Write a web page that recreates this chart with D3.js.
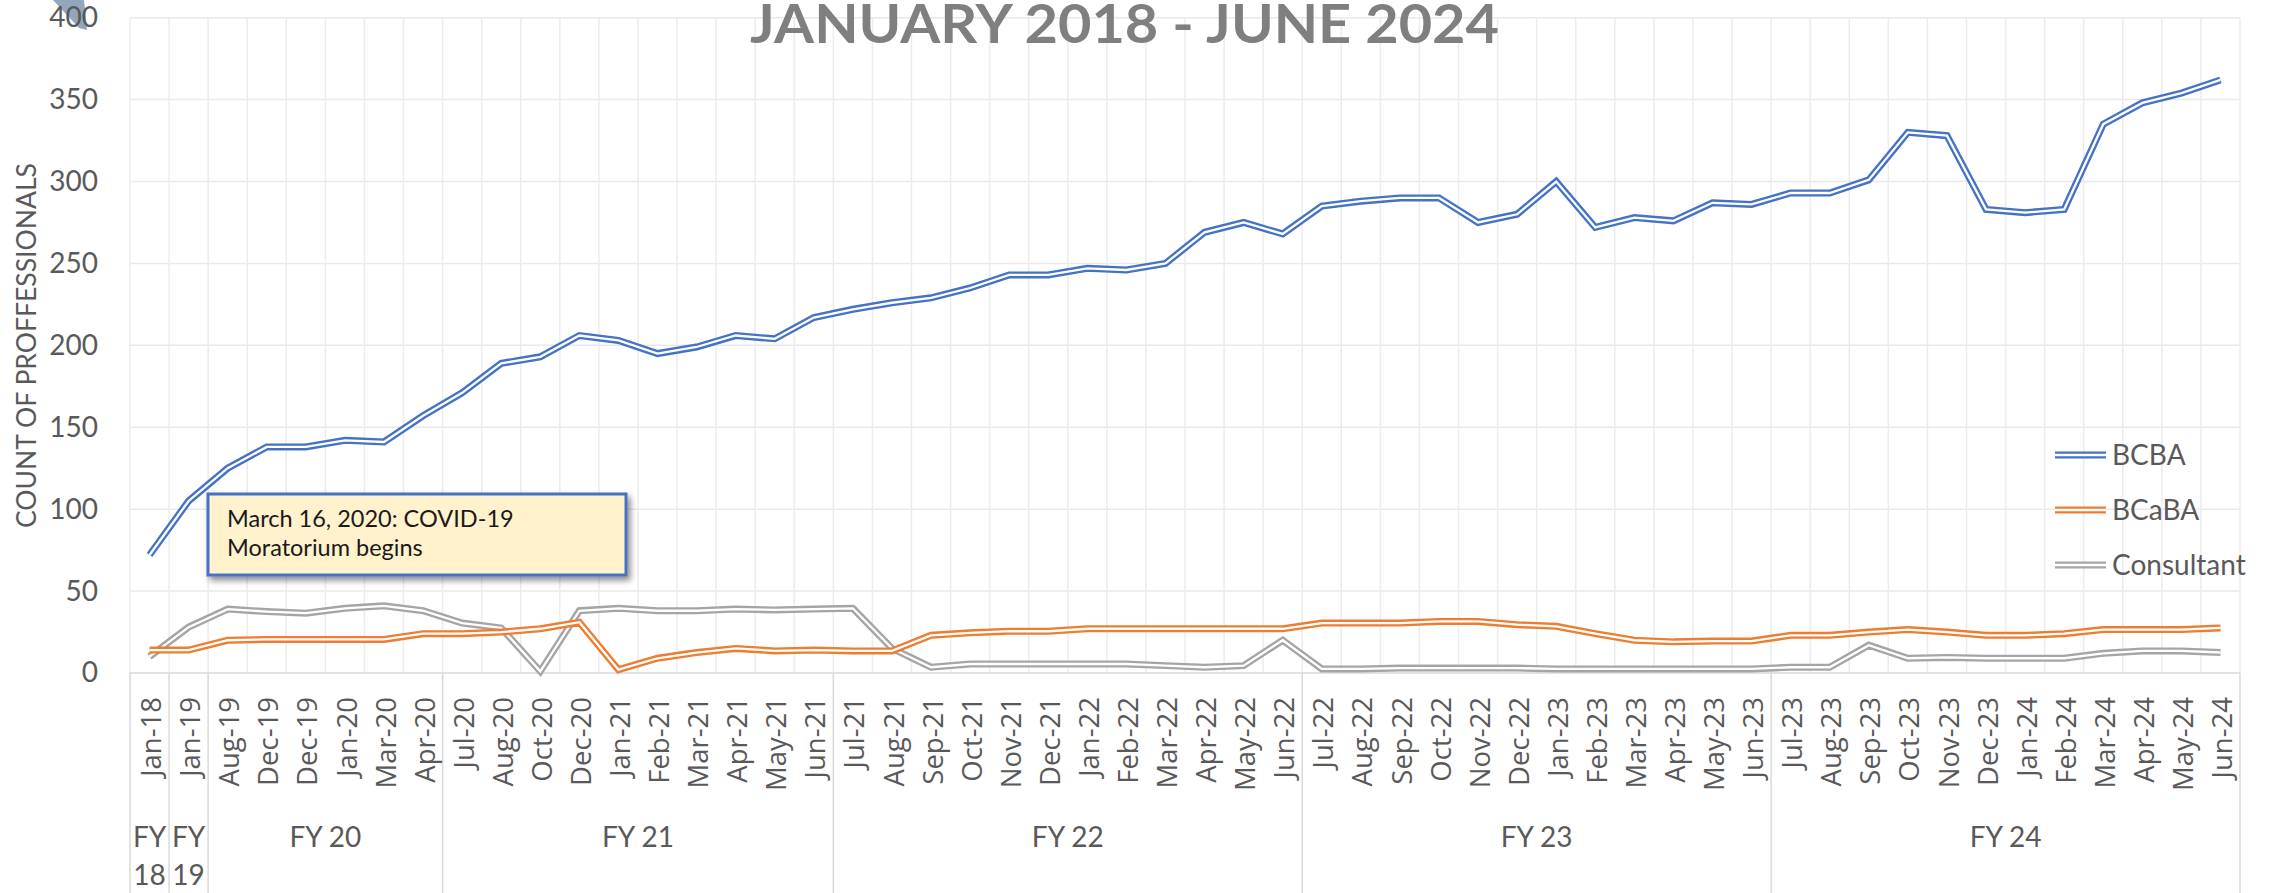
<!DOCTYPE html>
<html>
<head>
<meta charset="utf-8">
<script src="https://cdn.jsdelivr.net/npm/d3@7"></script>
<style>
  html, body { margin: 0; padding: 0; background: #fff; }
  svg { display: block; }
</style>
</head>
<body>
<script>
const categories = ["Jan-18","Jan-19","Aug-19","Dec-19","Dec-19","Jan-20","Mar-20","Apr-20","Jul-20","Aug-20","Oct-20","Dec-20","Jan-21","Feb-21","Mar-21","Apr-21","May-21","Jun-21","Jul-21","Aug-21","Sep-21","Oct-21","Nov-21","Dec-21","Jan-22","Feb-22","Mar-22","Apr-22","May-22","Jun-22","Jul-22","Aug-22","Sep-22","Oct-22","Nov-22","Dec-22","Jan-23","Feb-23","Mar-23","Apr-23","May-23","Jun-23","Jul-23","Aug-23","Sep-23","Oct-23","Nov-23","Dec-23","Jan-24","Feb-24","Mar-24","Apr-24","May-24","Jun-24"];
const bcba = [72,105,125,138,138,142,141,157,171,189,193,206,203,195,199,206,204,217,222,226,229,235,243,243,247,246,250,269,275,268,285,288,290,290,275,280,300,272,278,276,287,286,293,293,301,330,328,283,281,283,335,348,354,362];
const bcaba = [14,14,20,20.5,20.5,20.5,20.5,24,24,25,27,31,2,9,12.5,15,13.5,14,13.5,13.5,23,24.5,25.5,25.5,27,27,27,27,27,27,30.5,30.5,30.5,31.5,31.5,29.5,28.5,24,20,19,19.5,19.5,23,23,25,26.5,25,23,23,24,26.5,26.5,26.5,27.5];
const consultant = [10,28,39,37.5,36.5,39.5,41,38,30.5,27.5,1,38,39.5,38,38,39,38.5,39,39.5,15,3.5,5.5,5.5,5.5,5.5,5.5,4.5,3.5,4.5,20,2.5,2.5,3,3,3,3,2.5,2.5,2.5,2.5,2.5,2.5,3.5,3.5,17,9,9.5,9,9,9,12,13.5,13.5,12.5];
const seriesNames = ["BCBA","BCaBA","Consultant"];
const seriesColors = ["#4472C4","#ED7D31","#A5A5A5"];
const yTicks = [0,50,100,150,200,250,300,350,400];
const fyLabels = ["FY 18","FY 19","FY 20","FY 21","FY 22","FY 23","FY 24"];
const fyCounts = [1,1,6,10,12,12,12];
const titleText = "JANUARY 2018 - JUNE 2024";
const yAxisTitle = "COUNT OF PROFFESSIONALS";
const noteLines = ["March 16, 2020: COVID-19","Moratorium begins"];

(function () {
const W = 2277, H = 893;
const pLeft = 130, pRight = 2240, pTop = 17.7, pBottom = 673;

const svg = d3.select("body").append("svg").attr("width", W).attr("height", H);

const defs = svg.append("defs");
const f = defs.append("filter").attr("id","shadow").attr("x","-10%").attr("y","-20%").attr("width","130%").attr("height","160%");
f.append("feDropShadow").attr("dx",3).attr("dy",4).attr("stdDeviation",3).attr("flood-color","#000").attr("flood-opacity",0.45);

const idx = d3.range(categories.length);
const x = d3.scaleBand().domain(idx).range([pLeft, pRight]).paddingInner(0).paddingOuter(0);
const y = d3.scaleLinear().domain([0, 400]).range([pBottom, pTop]);
const cx = i => x(i) + x.bandwidth() / 2;

// decorative shape top-left
svg.append("path").attr("d","M53,0 L84,0 L87,30 L79,28 Z").attr("fill","#93a6bb");

// horizontal gridlines
svg.append("g").selectAll("line").data(yTicks.filter(d => d > 0)).join("line")
  .attr("x1", pLeft).attr("x2", pRight).attr("y1", d => y(d)).attr("y2", d => y(d))
  .attr("stroke", "#e9e9e9").attr("stroke-width", 1.5);

// vertical gridlines (band boundaries)
const bounds = d3.range(categories.length + 1).map(i => i < categories.length ? x(i) : pRight);
svg.append("g").selectAll("line").data(bounds).join("line")
  .attr("x1", d => d).attr("x2", d => d).attr("y1", pTop).attr("y2", pBottom)
  .attr("stroke", "#ececec").attr("stroke-width", 1.5);

// group separators below axis
let acc = 0;
const groupBounds = [0];
fyCounts.forEach(c => { acc += c; groupBounds.push(acc); });
const gpos = i => i < categories.length ? x(i) : pRight;
svg.append("g").selectAll("line").data(groupBounds).join("line")
  .attr("x1", gpos).attr("x2", gpos)
  .attr("y1", pBottom).attr("y2", H)
  .attr("stroke", "#d9d9d9").attr("stroke-width", 1.5);

// x axis line
svg.append("line").attr("x1", pLeft).attr("x2", pRight).attr("y1", pBottom).attr("y2", pBottom)
  .attr("stroke", "#d9d9d9").attr("stroke-width", 1.5);

// x axis tick labels
const xAxis = d3.axisBottom(x).tickSize(0).tickFormat(i => categories[i]);
const gx = svg.append("g").attr("transform", `translate(0,${pBottom})`).call(xAxis);
gx.select(".domain").remove();
gx.selectAll("text")
  .attr("font-family", "'Open Sans', sans-serif").attr("font-size", 27.5).attr("fill", "#595959")
  .attr("transform", "rotate(-90)")
  .attr("x", -24).attr("y", 2).attr("dy", "0.35em")
  .attr("text-anchor", "end");

// FY group labels
const fyG = svg.append("g");
fyLabels.forEach((lab, k) => {
  const x0 = gpos(groupBounds[k]), x1 = gpos(groupBounds[k + 1]);
  const mid = (x0 + x1) / 2;
  const t = fyG.append("text").attr("x", mid).attr("y", 847)
    .attr("text-anchor", "middle")
    .attr("font-family", "Lato, sans-serif").attr("font-size", 28).attr("fill", "#595959");
  if (fyCounts[k] === 1) {
    const parts = lab.split(" ");
    t.append("tspan").attr("x", mid).attr("y", 847).text(parts[0]);
    t.append("tspan").attr("x", mid).attr("y", 885).text(parts[1]);
  } else {
    t.text(lab);
  }
});

// y axis labels
const yAxis = d3.axisLeft(y).tickValues(yTicks).tickSize(0).tickPadding(0);
const gy = svg.append("g").attr("transform", `translate(98,0)`).call(yAxis);
gy.select(".domain").remove();
gy.selectAll("text").attr("font-family", "Lato, sans-serif").attr("font-size", 28).attr("fill", "#595959");

// y axis title
svg.append("text")
  .attr("transform", `translate(36,345.5) rotate(-90)`)
  .attr("text-anchor", "middle")
  .attr("font-family", "Lato, sans-serif").attr("font-size", 27).attr("fill", "#595959")
  .attr("textLength", 365).attr("lengthAdjust", "spacingAndGlyphs")
  .text(yAxisTitle);

// title
svg.append("text").attr("x", 1124.5).attr("y", 43)
  .attr("text-anchor", "middle")
  .attr("font-family", "Lato, sans-serif").attr("font-weight", "bold").attr("font-size", 53)
  .attr("fill", "#7f7f7f")
  .attr("textLength", 749).attr("lengthAdjust", "spacingAndGlyphs")
  .text(titleText);

// lines
const allSeries = [bcba, bcaba, consultant];
const line = d3.line().x((d, i) => cx(i)).y(d => y(d));
[2, 1, 0].forEach(s => {
  const g = svg.append("g");
  g.append("path").datum(allSeries[s]).attr("d", line).attr("fill", "none")
    .attr("stroke", seriesColors[s]).attr("stroke-width", 7).attr("stroke-linejoin", "miter");
  g.append("path").datum(allSeries[s]).attr("d", line).attr("fill", "none")
    .attr("stroke", "#ffffff").attr("stroke-width", 2.3).attr("stroke-linejoin", "miter");
});

// annotation box
const note = svg.append("g");
note.append("rect").attr("x", 208).attr("y", 494).attr("width", 418).attr("height", 81)
  .attr("fill", "#FFF2CC").attr("stroke", "#4472C4").attr("stroke-width", 3)
  .attr("filter", "url(#shadow)");
noteLines.forEach((t, k) => {
  note.append("text").attr("x", 227).attr("y", 527 + k * 29)
    .attr("font-family", "Lato, sans-serif").attr("font-size", 23.5).attr("fill", "#1a1a1a")
    .text(t);
});

// legend
const legY = [455, 510, 565];
const leg = svg.append("g");
seriesNames.forEach((n, k) => {
  leg.append("line").attr("x1", 2055).attr("x2", 2106).attr("y1", legY[k]).attr("y2", legY[k])
    .attr("stroke", seriesColors[k]).attr("stroke-width", 7);
  leg.append("line").attr("x1", 2055).attr("x2", 2106).attr("y1", legY[k]).attr("y2", legY[k])
    .attr("stroke", "#fff").attr("stroke-width", 2.3);
  leg.append("text").attr("x", 2112).attr("y", legY[k]).attr("dy", "0.35em")
    .attr("font-family", "Lato, sans-serif").attr("font-size", 28).attr("fill", "#595959")
    .text(n);
});
})();
</script>
</body>
</html>
